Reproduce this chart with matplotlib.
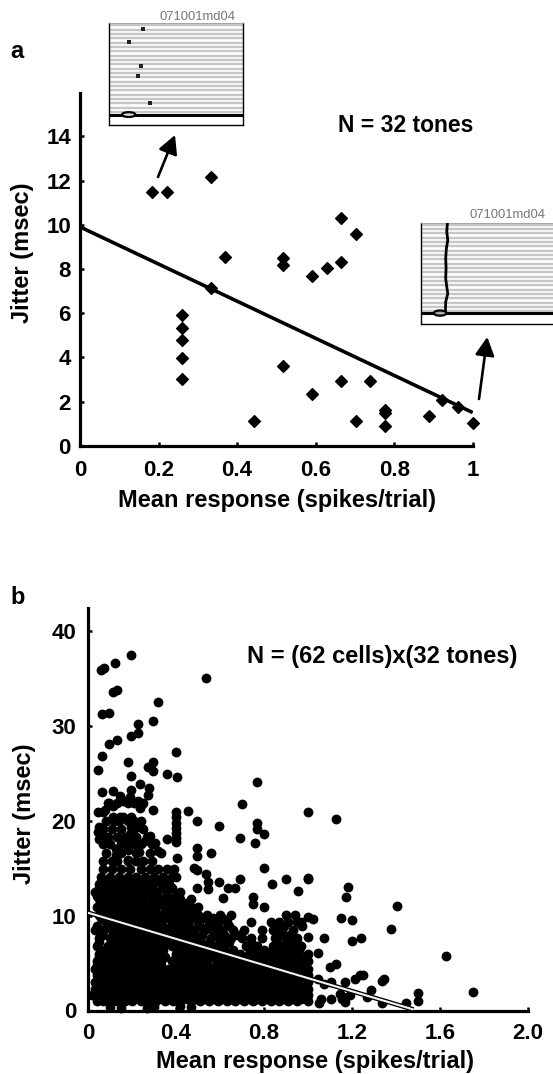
import numpy as np, matplotlib
matplotlib.use('Agg')
import matplotlib.pyplot as plt
from matplotlib.patches import Ellipse

plt.rcParams['font.family'] = ['Liberation Sans', 'DejaVu Sans']
W, H = 553, 1074

# panel a
a_x = [.184, .222, .333, .369, .333, .26, .26, .26, .26, .26, .444, .518, .518, .518,
       .665, .703, .591, .629, .665, .665, .739, .591, .703, .777, .777, .777, .888,
       .923, .962, 1.0]
a_y = [11.5, 11.5, 12.17, 8.55, 7.15, 5.9, 5.34, 4.78, 3.95, 3.03, 1.13, 8.48, 8.18, 3.62,
       10.32, 9.6, 7.69, 8.05, 8.3, 2.94, 2.94, 2.35, 1.1, 1.61, 1.47, .89, 1.34,
       2.07, 1.77, 1.04]
a_fit_x = [0, 1]
a_fit_y = [9.9, 1.5]
a_xticks = [0, .2, .4, .6, .8, 1]
a_xlabels = ['0', '0.2', '0.4', '0.6', '0.8', '1']
a_yticks = [0, 2, 4, 6, 8, 10, 12, 14]

# panel b, sparse points read one by one
b_x = [.195, .123, .074, .06, .536, .317, .13, .115, .062, .097, .297, .227, .227, .195, .13, .094,
       .062, .399, .18, .297, .274, .297, .045, .358, .406, .195, .77, .238, .277, .274, .062, .115,
       .145, .195, .19, .16, .226, .097, .244, .699, .236, .115, .077, .045, .067, .16, .297, .399,
       .453, .999, .115, .145, .195, .497, .77, .399, .399, .399, .399, .399, .399, .597, .77, .8,
       .691, .759, .36, .05, .045, .05, .238, .195, .19, .18, .282, .259, .305, .32, .232, .497,
       .497, .559, .406, .125, .125, .125, .18, .18, .8, .691, .597, .838, .899, .999, .953, .638,
       .668, .615, .749, .749, .8, .497, .545, .545, .497, .48, .535,
       1.126, .999, 1.182, 1.171, 1.403, 1.15, 1.201, 1.024, .999, .971, 1.377, .999, 1.074, 1.201,
       1.241, 1.047, 1.626, 1.1, 1.126, 1.214, 1.236, 1.252, 1.335, 1.347, 1.047, 1.074, 1.103,
       1.168, 1.286, 1.501, 1.501, 1.751, 1.444, 1.058, 1.05, 1.103, 1.145, 1.161, 1.168, 1.191,
       1.153, 1.267, 1.335,
       .1, .15, .27, .3, .42, .47]
b_y = [37.5, 36.6, 36.1, 35.9, 35.0, 32.5, 33.8, 33.6, 31.2, 31.3, 30.5, 30.2, 29.2, 28.9, 28.5, 28.1,
       26.8, 27.2, 26.2, 26.2, 25.6, 25.2, 25.3, 24.9, 24.6, 24.7, 24.1, 23.9, 23.4, 22.7, 23.05, 23.1,
       22.6, 23.2, 22.5, 22.1, 22.1, 21.9, 21.8, 21.8, 21.3, 21.5, 21.1, 20.9, 20.9, 20.4, 21.1, 20.9,
       21.05, 20.9, 20.4, 20.4, 20.4, 20.0, 19.8, 20.4, 19.8, 19.2, 18.7, 18.2, 17.7, 19.4, 19.1, 18.6,
       18.2, 17.6, 18.1, 19.3, 18.8, 18.1, 19.3, 19.3, 18.6, 17.8, 18.4, 17.9, 17.6, 16.8, 16.7, 17.1,
       16.3, 16.6, 16.1, 17.0, 16.4, 15.8, 16.9, 15.9, 15.0, 13.9, 13.5, 13.3, 13.9, 13.9, 12.6, 12.9,
       12.9, 11.9, 12.0, 11.2, 10.9, 12.9, 12.8, 13.5, 14.8, 15.0, 14.4,
       20.2, 13.97, 13.0, 12.0, 11.0, 9.7, 9.5, 9.6, 9.8, 8.9, 8.6, 7.7, 7.65, 7.3,
       7.65, 6.1, 5.75, 4.55, 4.85, 3.3, 3.7, 3.7, 3.1, 3.35, 3.3, 2.8, 3.05,
       3.0, 2.2, 1.8, 1.05, 2.0, .8, 1.2, .8, 1.2, 1.75, 1.4, .85, 1.65,
       1.2, 1.4, .8,
       .35, .3, .3, .4, .45, .35]

# panel b, the dense cloud read row by row
row_y = [.95, 1.6, 2.3, 3.0, 3.7, 4.4, 5.2, 6.0, 6.8, 7.6, 8.5, 9.3, 10.1, 10.9, 11.7, 12.5,
         13.3, 14.1, 14.9, 15.7]
row_x = [
    [.04, .07, .10, .13, .17, .2, .24, .27, .31, .35, .385, .42, .47, .51, .55, .59, .63, .67, .71, .75, .79, .83, .87, .91, .95, .999],
    [.02, .05, .08, .12, .15, .19, .22, .26, .29, .33, .37, .40, .44, .48, .52, .56, .60, .64, .68, .72, .76, .80, .84, .88, .92, .96, .999],
    [.03, .06, .10, .14, .17, .21, .24, .28, .31, .35, .39, .42, .46, .50, .54, .58, .62, .66, .70, .74, .78, .82, .86, .90, .94, .97, .999],
    [.03, .05, .09, .12, .16, .19, .23, .26, .30, .33, .37, .41, .44, .48, .52, .56, .60, .64, .68, .72, .76, .80, .84, .88, .92, .96, .999],
    [.04, .07, .11, .14, .18, .21, .25, .28, .32, .36, .39, .43, .46, .50, .54, .58, .62, .66, .70, .74, .78, .82, .86, .90, .94, .98, .999],
    [.03, .06, .10, .13, .17, .20, .24, .27, .31, .37, .41, .44, .48, .52, .56, .60, .64, .68, .72, .76, .80, .84, .88, .92, .96, .999],
    [.04, .08, .11, .15, .18, .22, .25, .29, .33, .38, .42, .46, .50, .54, .59, .63, .67, .71, .75, .79, .83, .87, .91, .95, .98, .999],
    [.05, .08, .12, .15, .19, .22, .26, .29, .32, .40, .43, .47, .51, .55, .59, .64, .69, .73, .78, .82, .86, .90, .94, .999],
    [.04, .09, .13, .16, .20, .23, .27, .30, .34, .38, .41, .45, .49, .53, .58, .62, .72, .77, .84, .88, .93, .97],
    [.05, .10, .14, .17, .21, .24, .28, .31, .35, .39, .43, .47, .50, .56, .60, .65, .70, .74, .79, .85, .90, .95],
    [.03, .07, .11, .14, .18, .21, .25, .28, .32, .36, .40, .44, .48, .53, .57, .61, .66, .71, .79, .84, .88, .93],
    [.08, .12, .16, .19, .23, .26, .30, .33, .38, .42, .45, .50, .55, .59, .63, .74, .83, .87, .91, .95, .97],
    [.05, .10, .14, .17, .21, .25, .28, .33, .37, .41, .46, .50, .54, .60, .65, .90, .94],
    [.04, .07, .11, .15, .19, .23, .27, .31, .35, .39, .43, .47, .50],
    [.05, .09, .13, .17, .21, .25, .30, .34, .38, .42, .47],
    [.03, .07, .11, .15, .19, .23, .27, .31, .36, .42],
    [.05, .09, .13, .17, .21, .25, .29, .33, .37],
    [.06, .10, .14, .18, .22, .26, .30, .34, .38, .40],
    [.07, .11, .15, .19, .24, .28, .32, .36, .39],
    [.07, .11, .13, .18, .22, .25, .29],
]
# second pass over the cloud, filling what the first rows leave open
fill_y = [1.25, 1.95, 2.65, 3.35, 4.05, 4.8, 5.6, 6.4, 7.2, 8.0, 8.9, 9.7, 10.5, 11.3, 12.1, 12.9,
          13.7, 16.6, 17.5, 18.3, 19.1, 20.0, 21.9]
fill_x = [
    [.05, .09, .12, .16, .19, .23, .26, .30, .34, .37, .41, .45, .49, .53, .57, .61, .65, .69, .73, .77, .81, .85, .89, .93, .97],
    [.04, .07, .11, .14, .18, .21, .25, .28, .32, .36, .38, .43, .47, .51, .55, .59, .63, .67, .71, .75, .79, .83, .87, .91, .95, .985],
    [.04, .08, .12, .15, .19, .22, .26, .29, .33, .37, .40, .44, .48, .52, .56, .60, .64, .68, .72, .76, .80, .84, .88, .92, .95, .98],
    [.05, .07, .11, .14, .18, .21, .25, .28, .32, .35, .39, .43, .46, .50, .54, .58, .62, .66, .70, .74, .78, .82, .86, .90, .94, .98],
    [.05, .09, .12, .16, .19, .23, .26, .30, .34, .38, .41, .45, .48, .52, .56, .60, .64, .68, .72, .76, .80, .84, .88, .92, .96, .985],
    [.04, .08, .12, .15, .19, .22, .26, .29, .33, .39, .43, .46, .50, .54, .58, .62, .66, .70, .74, .78, .82, .86, .90, .94, .98],
    [.05, .10, .13, .17, .20, .24, .27, .31, .35, .40, .44, .48, .52, .57, .61, .65, .69, .73, .77, .81, .85, .89, .93, .97],
    [.06, .10, .14, .17, .21, .24, .28, .31, .34, .42, .45, .49, .53, .57, .62, .66, .75, .80, .84, .88, .92, .96],
    [.05, .11, .15, .18, .22, .25, .29, .32, .36, .40, .43, .47, .51, .55, .60, .64, .74, .86, .91, .95],
    [.07, .12, .16, .19, .23, .26, .30, .33, .37, .41, .45, .49, .52, .58, .62, .68, .87, .92],
    [.04, .09, .13, .16, .20, .23, .27, .30, .34, .38, .42, .46, .51, .55, .59, .64, .85, .89],
    [.06, .10, .14, .18, .21, .25, .28, .32, .35, .40, .44, .48, .52, .57, .61],
    [.06, .09, .13, .16, .19, .23, .27, .30, .35, .39, .43, .48],
    [.06, .09, .13, .17, .21, .25, .29, .33, .37, .41, .45],
    [.04, .07, .11, .15, .19, .23, .28, .32, .36, .40],
    [.05, .09, .13, .17, .21, .25, .29, .34, .38],
    [.07, .11, .15, .19, .23, .27, .31, .35],
    [.08, .15, .22, .28, .33],
    [.07, .10, .15, .21, .24, .29],
    [.06, .09, .13, .17, .22, .27],
    [.07, .11, .15, .21, .25],
    [.08, .12, .14, .18, .21, .24],
    [.09, .13, .18, .21, .25],
]
b_fit_x = [0, 1.48]
b_fit_y = [10.3, .1]
b_xticks = [0, .4, .8, 1.2, 1.6, 2.0]
b_xlabels = ['0', '0.4', '0.8', '1.2', '1.6', '2.0']
b_yticks = [0, 10, 20, 30, 40]

# raster insets
raster_name = '071001md04'
sparse_x = [.2525, .1475, .2375, .215, .305]
sparse_row = [1.4, 4.4, 9.85, 12.2, 18.5]
dense_x = [.2, .195, .203, .192, .187, .19, .187, .195, .203, .187, .185]
dense_row = [.2, 2.1, 4.1, 6, 8.3, 10.6, 12.9, 14.8, 16.4, 18.3, 20.6]


def px_axes(fig, left, top, right, bottom):
    return fig.add_axes([left / W, 1 - bottom / H, (right - left) / W, (bottom - top) / H])


def style_scatter_axes(ax, xticks, xlabels, yticks, xpad, ypad):
    ax.spines['top'].set_visible(False)
    ax.spines['right'].set_visible(False)
    for s in ['left', 'bottom']:
        ax.spines[s].set_linewidth(2.3)
    ax.set_xticks(xticks)
    ax.set_xticklabels(xlabels)
    ax.set_yticks(yticks)
    ax.tick_params(direction='in', length=3.2, width=1.8, labelsize=16)
    ax.tick_params(axis='x', pad=xpad)
    ax.tick_params(axis='y', pad=ypad)
    for t in ax.get_xticklabels() + ax.get_yticklabels():
        t.set_fontweight('bold')


def axis_labels(ax, xcenter, ycenter):
    # label centres given in picture pixels, turned into axes fractions
    to_axes = ax.transAxes.inverted()
    ax.set_xlabel('Mean response (spikes/trial)', fontsize=17, fontweight='bold', va='center')
    ax.set_ylabel('Jitter (msec)', fontsize=17, fontweight='bold', va='center')
    ax.xaxis.set_label_coords(*to_axes.transform((xcenter[0], H - xcenter[1])))
    ax.yaxis.set_label_coords(*to_axes.transform((ycenter[0], H - ycenter[1])))


def raster(fig, left, top, right, bottom, thick_row, n_rows):
    ax = px_axes(fig, left, top, right, bottom)
    ax.set_xlim(0, 1)
    ax.set_ylim(n_rows, 0)
    ax.hlines(np.arange(.5, thick_row, 1), 0, 1, color='#c6c6c6', linewidth=1.7)
    ax.axhline(thick_row, color='black', linewidth=2.2)
    ax.set_xticks([])
    ax.set_yticks([])
    ax.spines['top'].set_color('#999999')
    ax.spines['top'].set_linewidth(.6)
    for s in ['left', 'right', 'bottom']:
        ax.spines[s].set_linewidth(1.0)
    return ax


fig = plt.figure(figsize=(W / 100, H / 100), dpi=100)

# ── a ──
ax1 = px_axes(fig, 80, 93, 472.7, 445.7)
ax1.set_xlim(0, 1)
ax1.set_ylim(0, 15.96)
ax1.plot(a_fit_x, a_fit_y, color='black', linewidth=2.6, solid_capstyle='butt')
ax1.scatter(a_x, a_y, marker='D', s=36, color='black', linewidths=1.0, clip_on=False, zorder=3)
style_scatter_axes(ax1, a_xticks, a_xlabels, a_yticks, 10.5, 6.5)
axis_labels(ax1, (277.5, 501), (22, 253))

# ── b ──
ax2 = px_axes(fig, 88, 608, 528, 1010.5)
ax2.set_xlim(0, 2.0)
ax2.set_ylim(0, 42.4)
for y, xs in zip(row_y + fill_y, row_x + fill_x):
    ax2.scatter(xs, [y] * len(xs), s=50, color='black', linewidths=0, clip_on=False, zorder=2)
ax2.scatter(b_x, b_y, s=50, color='black', linewidths=0, clip_on=False, zorder=2)
ax2.plot(b_fit_x, b_fit_y, color='black', linewidth=3.4, solid_capstyle='butt', zorder=4)
ax2.plot(b_fit_x, b_fit_y, color='#f2f2f2', linewidth=1.5, solid_capstyle='butt', zorder=5)
style_scatter_axes(ax2, b_xticks, b_xlabels, b_yticks, 9, 8.5)
axis_labels(ax2, (315, 1061.5), (25, 814))

# ── insets ──
r1 = raster(fig, 109, 23, 243, 125, 21.1, 23.5)
r1.scatter(sparse_x, sparse_row, marker='s', s=5, color='#222222', linewidths=0, zorder=3)
r1.add_patch(Ellipse((.147, 21.1), .1, 1.1, facecolor='#dddddd', edgecolor='black', linewidth=1.6, zorder=4))

r2 = raster(fig, 421, 222.5, 553, 323.5, 20.9, 23.3)
r2.spines['right'].set_visible(False)
r2.plot(dense_x, dense_row, color='black', linewidth=2.0, zorder=3)
r2.add_patch(Ellipse((.145, 20.9), .096, 1.2, facecolor='#aaaaaa', edgecolor='black', linewidth=1.6, zorder=4))

# ── overlay text and arrows, in picture pixels ──
ov = fig.add_axes([0, 0, 1, 1], facecolor='none')
ov.set_xlim(0, W)
ov.set_ylim(H, 0)
ov.axis('off')
ov.text(10, 51, 'a', fontsize=17, fontweight='bold', va='center')
ov.text(10, 598, 'b', fontsize=17, fontweight='bold', va='center')
ov.text(338, 126, 'N = 32 tones', fontsize=16.5, fontweight='bold', va='center')
ov.text(247, 657, 'N = (62 cells)x(32 tones)', fontsize=17, fontweight='bold', va='center')
ov.text(197, 17, raster_name, fontsize=9.4, color='#777777', ha='center', va='center')
ov.text(507, 215.5, raster_name, fontsize=9.4, color='#777777', ha='center', va='center')
arrow = dict(arrowstyle='-|>,head_length=0.8,head_width=0.42', color='black', linewidth=1.9,
             shrinkA=0, shrinkB=0, mutation_scale=14)
ov.annotate('', xy=(175, 135), xytext=(158, 177), arrowprops=arrow)
ov.annotate('', xy=(487.3, 337), xytext=(479, 399), arrowprops=arrow)

plt.savefig('out.png', dpi=100, facecolor='white')
plt.close()
